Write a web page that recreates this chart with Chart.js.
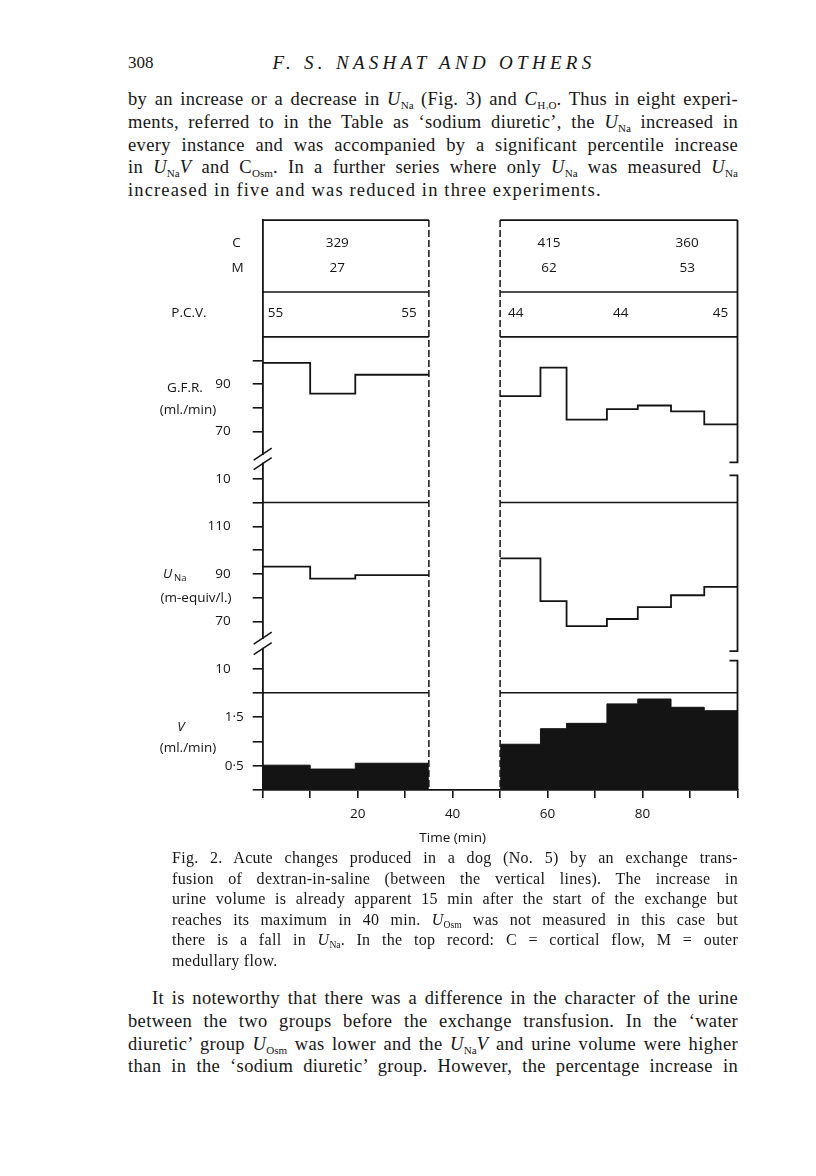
<!DOCTYPE html>
<html lang="en">
<head>
<meta charset="UTF-8">
<title>Fig. 2 - exchange transfusion</title>
<script src="https://cdn.jsdelivr.net/npm/chart.js"></script>
<style>
  body { margin: 0; background: #fff; width: 816px; height: 1176px; position: relative; overflow: hidden;
         font-family: "Liberation Serif", "DejaVu Serif", serif; color: #161616; }
  .ln { position: absolute; font-size: 18.5px; letter-spacing: 0.35px; line-height: 22px; height: 22px; white-space: nowrap; }
  .j { text-align: justify; text-align-last: justify; white-space: normal; overflow: hidden; }
  .cap { font-size: 16px; letter-spacing: 0.3px; line-height: 20px; height: 20px; }
  sub { font-size: 0.6em; vertical-align: -0.35em; line-height: 0; letter-spacing: 0; }
  #box { position: absolute; left: 120px; top: 190px; width: 640px; height: 660px; }
</style>
</head>
<body>

<div class="ln" style="left:128px; top:52px; font-size:17px; letter-spacing:0;">308</div>
<div class="ln" style="left:234px; width:400px; top:52px; text-align:center; font-style:italic; font-size:19px; letter-spacing:4.3px;">F. S. NASHAT AND OTHERS</div>

<div class="ln j" style="left:128px; width:610px; top:88px;">by an increase or a decrease in <i>U</i><sub>Na</sub> (Fig. 3) and <i>C</i><sub>H<sub>2</sub>O</sub>. Thus in eight experi-</div>
<div class="ln j" style="left:128px; width:610px; top:111px;">ments, referred to in the Table as ‘sodium diuretic’, the <i>U</i><sub>Na</sub> increased in</div>
<div class="ln j" style="left:128px; width:610px; top:134px;">every instance and was accompanied by a significant percentile increase</div>
<div class="ln j" style="left:128px; width:610px; top:156px;">in <i>U</i><sub>Na</sub><i>V</i> and C<sub>Osm</sub>. In a further series where only <i>U</i><sub>Na</sub> was measured <i>U</i><sub>Na</sub></div>
<div class="ln" style="left:128px; top:179px; letter-spacing:1.15px;">increased in five and was reduced in three experiments.</div>

<div id="box"><canvas id="fig" width="640" height="660"></canvas></div>

<div class="ln cap j" style="left:172px; width:566px; top:848px;">Fig. 2. Acute changes produced in a dog (No. 5) by an exchange trans-</div>
<div class="ln cap j" style="left:172px; width:566px; top:869px;">fusion of dextran-in-saline (between the vertical lines). The increase in</div>
<div class="ln cap j" style="left:172px; width:566px; top:889px;">urine volume is already apparent 15 min after the start of the exchange but</div>
<div class="ln cap j" style="left:172px; width:566px; top:910px;">reaches its maximum in 40 min. <i>U</i><sub>Osm</sub> was not measured in this case but</div>
<div class="ln cap j" style="left:172px; width:566px; top:930px;">there is a fall in <i>U</i><sub>Na</sub>. In the top record: C = cortical flow, M = outer</div>
<div class="ln cap" style="left:172px; top:951px;">medullary flow.</div>

<div class="ln j" style="left:152px; width:586px; top:987px;">It is noteworthy that there was a difference in the character of the urine</div>
<div class="ln j" style="left:128px; width:610px; top:1010px;">between the two groups before the exchange transfusion. In the ‘water</div>
<div class="ln j" style="left:128px; width:610px; top:1033px;">diuretic’ group <i>U</i><sub>Osm</sub> was lower and the <i>U</i><sub>Na</sub><i>V</i> and urine volume were higher</div>
<div class="ln j" style="left:128px; width:610px; top:1055px;">than in the ‘sodium diuretic’ group. However, the percentage increase in</div>

<script>
// time (min) of the step edges, before and after the exchange
const edgesBefore = [0, 10, 19.5, 35];
const edgesAfter = [50, 58.5, 64, 72.5, 79, 86, 93, 100];
const exchangeStart = 35;
const exchangeEnd = 50;

// G.F.R. (ml./min)
const gfrBefore = [99, 86, 94];
const gfrAfter = [85, 97, 75, 79.5, 81, 78.5, 73];
// U Na (m-equiv/l.)
const unaBefore = [93, 88, 89.5];
const unaAfter = [96.5, 78.5, 68, 71, 76, 81, 84.5];
// V (ml./min)
const vBefore = [0.51, 0.43, 0.55];
const vAfter = [0.94, 1.26, 1.37, 1.77, 1.87, 1.70, 1.63];

// top record: cortical (C) and outer medullary (M) flow, and P.C.V.
const flowTimes = [15.7, 60.3, 89.4];
const cortical = [329, 415, 360];
const medullary = [27, 62, 53];
const pcvTimes = [2.7, 30.8, 53.3, 75.4, 96.4];
const pcv = [55, 55, 44, 44, 45];

// axis ticks (broken axes: the "10" tick sits at 50 on the drawn scale)
const gfrTicks = [50, 70, 80, 90, 100];
const gfrLabels = ['10', '70', '', '90', ''];
const unaTicks = [50, 70, 80, 90, 100, 110, 120];
const unaLabels = ['10', '70', '', '90', '', '110', ''];
const vTicks = [0, 0.5, 1, 1.5, 2];
const vLabels = ['', '0·5', '', '1·5', ''];
const xTicks = [0, 10, 20, 30, 40, 50, 60, 70, 80, 90, 100];
const xLabels = [20, 40, 60, 80];

const INK = '#141414';
const SANS = '"Open Sans", Lato, sans-serif';
const FS = 13.5;
const OX = 120, OY = 190; // canvas origin on the page

function steps(edges, vals) {
    const pts = vals.map((v, i) => ({ x: edges[i], y: v }));
    pts.push({ x: edges[edges.length - 1], y: vals[vals.length - 1] });
    return pts;
}

function stepLine(edges, vals, axis) {
    return { data: steps(edges, vals), yAxisID: axis, stepped: 'before', borderColor: INK,
             borderWidth: 1.8, pointRadius: 0, fill: false };
}

function stepBars(edges, vals) {
    return { data: steps(edges, vals), yAxisID: 'yV', stepped: 'before', borderColor: INK,
             borderWidth: 1, backgroundColor: INK, pointRadius: 0, fill: 'origin' };
}

function yAxis(weight, stackWeight, min, max, tickVals, labels, pad) {
    return {
        type: 'linear', position: 'left', stack: 'panels', weight: weight, stackWeight: stackWeight,
        min: min, max: max,
        afterFit: s => { s.width = 142.7; },
        afterBuildTicks: s => { s.ticks = tickVals.map(v => ({ value: v })); },
        ticks: {
            autoSkip: false, padding: pad, color: INK, font: { family: SANS, size: FS },
            callback: v => { const i = tickVals.indexOf(v); return i < 0 ? '' : labels[i]; }
        },
        grid: { drawOnChartArea: false, drawTicks: tickVals.length > 0, tickLength: 10, color: INK, lineWidth: 1.6 },
        border: { display: true, color: INK, width: 1.8 }
    };
}

// frame, dashed exchange lines, breaks and the text of the record
const decorations = {
    id: 'decorations',
    afterDraw(chart) {
        const ctx = chart.ctx;
        const s = chart.scales;
        const X = t => s.x.getPixelForValue(t);
        const x0 = X(0), xa = X(exchangeStart), xb = X(exchangeEnd), x1 = X(100);
        const top = s.yCM.top, bottom = s.yV.bottom;

        ctx.save();
        ctx.strokeStyle = INK;
        ctx.lineWidth = 1.6;

        // panel boundaries, left and right of the exchange
        const rows = [top, s.yCM.bottom, s.yPCV.bottom, s.yGFR.bottom, s.yUNa.bottom];
        ctx.beginPath();
        rows.forEach(y => {
            ctx.moveTo(x0, y); ctx.lineTo(xa, y);
            ctx.moveTo(xb, y); ctx.lineTo(x1, y);
        });
        ctx.stroke();

        // right frame with breaks
        const g1 = s.yGFR.getPixelForValue(57), g2 = s.yGFR.getPixelForValue(51.5);
        const u1 = s.yUNa.getPixelForValue(57.5), u2 = s.yUNa.getPixelForValue(53.5);
        ctx.lineWidth = 1.8;
        ctx.beginPath();
        ctx.moveTo(x1, top); ctx.lineTo(x1, g1); ctx.lineTo(x1 - 8, g1);
        ctx.moveTo(x1 - 8, g2); ctx.lineTo(x1, g2); ctx.lineTo(x1, u1); ctx.lineTo(x1 - 8, u1);
        ctx.moveTo(x1 - 8, u2); ctx.lineTo(x1, u2); ctx.lineTo(x1, bottom);
        ctx.stroke();

        // left axis breaks
        [[s.yGFR, 60.5, 56.5], [s.yUNa, 63, 58.5]].forEach(([sc, a, b]) => {
            const ya = sc.getPixelForValue(a), yb = sc.getPixelForValue(b);
            ctx.fillStyle = '#fff';
            ctx.fillRect(x0 - 3, ya + 1, 6, yb - ya - 2);
            ctx.beginPath();
            [ya, yb].forEach(y => { ctx.moveTo(x0 - 9, y + 6); ctx.lineTo(x0 + 9, y - 6); });
            ctx.lineWidth = 1.5;
            ctx.stroke();
        });

        // dashed lines: start and end of the exchange transfusion
        ctx.setLineDash([7, 3]);
        ctx.lineWidth = 1.5;
        ctx.beginPath();
        ctx.moveTo(xa, top); ctx.lineTo(xa, bottom);
        ctx.moveTo(xb, top); ctx.lineTo(xb, bottom);
        ctx.stroke();
        ctx.setLineDash([]);

        // text
        ctx.fillStyle = INK;
        ctx.textBaseline = 'middle';
        const txt = (str, x, y, align, font) => {
            ctx.font = font || (FS + 'px ' + SANS);
            ctx.textAlign = align || 'center';
            ctx.fillText(str, x - OX, y - OY);
        };
        const yC = 243, yM = 268, yP = 313;
        flowTimes.forEach((t, i) => {
            txt(String(cortical[i]), X(t) + OX, yC);
            txt(String(medullary[i]), X(t) + OX, yM);
        });
        pcvTimes.forEach((t, i) => txt(String(pcv[i]), X(t) + OX, yP));

        txt('C', 236.5, yC);
        txt('M', 237.5, yM);
        txt('P.C.V.', 189, yP);
        txt('G.F.R.', 185, 388);
        txt('(ml./min)', 188, 410);
        txt('U', 163, 574, 'left', 'italic ' + FS + 'px ' + SANS);
        txt('Na', 174, 578, 'left', '9.5px ' + SANS);
        txt('(m-equiv/l.)', 196, 598);
        txt('V', 181, 727, 'center', 'italic ' + FS + 'px ' + SANS);
        txt('(ml./min)', 188, 748);
        txt('Time (min)', X(40) + OX, 838);
        ctx.restore();
    }
};

new Chart(document.getElementById('fig'), {
    type: 'line',
    data: {
        datasets: [
            stepLine(edgesBefore, gfrBefore, 'yGFR'),
            stepLine(edgesAfter, gfrAfter, 'yGFR'),
            stepLine(edgesBefore, unaBefore, 'yUNa'),
            stepLine(edgesAfter, unaAfter, 'yUNa'),
            stepBars(edgesBefore, vBefore),
            stepBars(edgesAfter, vAfter)
        ]
    },
    options: {
        responsive: false,
        animation: false,
        layout: { padding: { left: 0, right: 22.5, top: 9, bottom: 20 } },
        plugins: { legend: { display: false }, tooltip: { enabled: false } },
        scales: {
            x: {
                type: 'linear', position: 'bottom', min: 0, max: 100,
                afterFit: s => { s.height = 40; },
                afterBuildTicks: s => { s.ticks = xTicks.map(v => ({ value: v })); },
                ticks: {
                    autoSkip: false, maxRotation: 0, padding: 8, color: INK, font: { family: SANS, size: FS },
                    callback: v => xLabels.includes(v) ? String(v) : ''
                },
                grid: { drawOnChartArea: false, tickLength: 8, color: INK, lineWidth: 1.6 },
                border: { color: INK, width: 1.8 }
            },
            yV: yAxis(1, 97.5, 0, 2, vTicks, vLabels, 9),
            yUNa: yAxis(2, 190.5, 40, 120, unaTicks, unaLabels, 22),
            yGFR: yAxis(3, 166, 40, 110, gfrTicks, gfrLabels, 22),
            yPCV: yAxis(4, 45, 0, 1, [], [], 0),
            yCM: yAxis(5, 72, 0, 1, [], [], 0)
        }
    },
    plugins: [decorations]
});
</script>
</body>
</html>
